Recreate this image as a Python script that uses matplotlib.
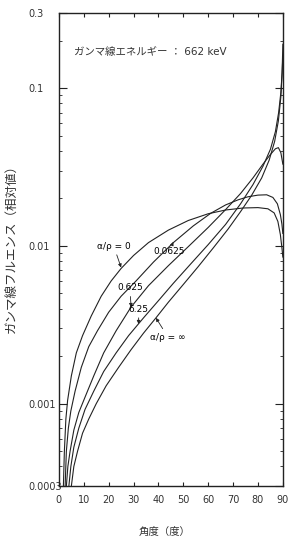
import numpy as np
import matplotlib
matplotlib.use('Agg')
import matplotlib.pyplot as plt
from matplotlib.ticker import LogLocator, NullFormatter

plt.rcParams['font.family'] = ['DejaVu Sans', 'Noto Sans CJK JP']

# angle (deg) / relative gamma fluence
deg_0 = [1.8, 2.2, 2.8, 3.5, 5, 7, 9.5, 13, 17, 21, 25, 30, 36, 44, 52, 60, 67, 74, 80,
         84, 86.5, 88, 89, 89.6, 90]
flu_0 = [0.0003, 0.0005, 0.0008, 0.00105, 0.0015, 0.0021, 0.0027, 0.0036, 0.0048, 0.006,
         0.0072, 0.0087, 0.0105, 0.0126, 0.0145, 0.016, 0.0169, 0.0174, 0.0175,
         0.0172, 0.0162, 0.0143, 0.0118, 0.0098, 0.0085]

deg_00625 = [2.5, 3, 3.8, 4.8, 6.5, 9, 12, 15.5, 20, 25, 31, 38, 46, 54, 61, 67, 72, 76, 80,
             83.5, 86, 87.8, 89, 89.6, 90]
flu_00625 = [0.0003, 0.0005, 0.0007, 0.0009, 0.0012, 0.0017, 0.0023, 0.0029, 0.0038, 0.0048,
             0.006, 0.0079, 0.0105, 0.0134, 0.0161, 0.0182, 0.0196, 0.0205, 0.021,
             0.0211, 0.0203, 0.0185, 0.0158, 0.0138, 0.012]

deg_0625 = [3, 3.6, 4.5, 6, 8, 10.5, 14, 18, 23, 29, 36, 44, 52, 60, 67, 73, 78, 82, 85, 87,
            88.2, 89.2, 90]
flu_0625 = [0.0003, 0.0004, 0.0005, 0.00068, 0.00088, 0.0011, 0.0015, 0.0021, 0.0029, 0.0041,
            0.0056, 0.0075, 0.0099, 0.0131, 0.017, 0.0215, 0.027, 0.033, 0.038, 0.0413,
            0.042, 0.039, 0.033]

deg_625 = [4, 4.8, 6, 8, 10.5, 14, 18, 23, 28, 34, 40, 46, 53, 60, 67, 73, 78, 82, 85, 87,
           88.3, 89.2, 89.7, 90]
flu_625 = [0.0003, 0.0004, 0.00053, 0.0007, 0.00092, 0.0012, 0.0016, 0.0021, 0.0027, 0.0035,
           0.0045, 0.0058, 0.0077, 0.0102, 0.0137, 0.0185, 0.0245, 0.032, 0.041, 0.053,
           0.07, 0.094, 0.125, 0.16]

deg_inf = [5, 6, 7.5, 9.5, 12, 15, 19, 24, 29, 34, 39, 44, 50, 56, 62, 68, 73, 77.5, 81.5,
           84.5, 86.7, 88.2, 89.2, 89.7, 90]
flu_inf = [0.0003, 0.0004, 0.0005, 0.00065, 0.0008, 0.001, 0.0013, 0.0017, 0.0022, 0.0028,
           0.0035, 0.0044, 0.0057, 0.0074, 0.0097, 0.0128, 0.0165, 0.021, 0.027,
           0.035, 0.046, 0.062, 0.088, 0.125, 0.19]

x_ticks = [0, 10, 20, 30, 40, 50, 60, 70, 80, 90]
y_ticks = [0.0003, 0.001, 0.01, 0.1, 0.3]
y_tick_labels = ['0.0003', '0.001', '0.01', '0.1', '0.3']

fig = plt.figure(figsize=(2.99, 5.39), dpi=100)
ax = fig.add_axes([0.197, 0.098, 0.749, 0.878])

for d, f in [(deg_0, flu_0), (deg_00625, flu_00625), (deg_0625, flu_0625),
             (deg_625, flu_625), (deg_inf, flu_inf)]:
    ax.plot(d, f, color='#222222', lw=0.8)

ax.set_yscale('log')
ax.set_xlim(0, 90)
ax.set_ylim(0.0003, 0.3)
ax.set_xticks(x_ticks)
ax.set_yticks(y_ticks)
ax.set_yticklabels(y_tick_labels)
ax.yaxis.set_minor_locator(LogLocator(base=10, subs=np.arange(2, 10)))
ax.yaxis.set_minor_formatter(NullFormatter())

ax.tick_params(axis='both', which='both', direction='in', top=True, right=True,
               labelsize=7, labelcolor='#333333', color='#222222')
ax.tick_params(axis='x', which='major', length=3, pad=6)
ax.tick_params(axis='y', which='major', length=6, pad=22)
ax.tick_params(axis='y', which='minor', length=2.5)
for lab in ax.get_yticklabels():
    lab.set_horizontalalignment('left')
for s in ax.spines.values():
    s.set_linewidth(1.0)
    s.set_color('#222222')

# curve labels with short arrows
arrow = dict(arrowstyle='-|>', lw=0.6, color='#222222', mutation_scale=5, shrinkA=1, shrinkB=0)
ax.annotate('α/ρ = 0', xy=(25, 0.0073), xytext=(0.245, 0.507), textcoords='axes fraction',
            fontsize=6.5, ha='center', va='center', arrowprops=arrow)
ax.annotate('0.0625', xy=(46, 0.0106), xytext=(0.491, 0.495), textcoords='axes fraction',
            fontsize=6.5, ha='center', va='center', arrowprops=arrow)
ax.annotate('0.625', xy=(29, 0.0041), xytext=(0.317, 0.419), textcoords='axes fraction',
            fontsize=6.5, ha='center', va='center', arrowprops=arrow)
ax.annotate('6.25', xy=(32, 0.0032), xytext=(0.357, 0.374), textcoords='axes fraction',
            fontsize=6.5, ha='center', va='center', arrowprops=arrow)
ax.annotate('α/ρ = ∞', xy=(39, 0.0035), xytext=(0.487, 0.315), textcoords='axes fraction',
            fontsize=6.5, ha='center', va='center', arrowprops=arrow)

ax.text(0.406, 0.918, 'ガンマ線エネルギー ： 662 keV', transform=ax.transAxes,
        fontsize=7.5, ha='center', va='center', color='#333333')

fig.text(0.04, 0.545, 'ガンマ線フルエンス（相対値）', rotation=90, fontsize=9,
         ha='center', va='center', color='#333333')
fig.text(0.552, 0.004, '角度（度）', fontsize=7.5, ha='center', va='bottom', color='#333333')

fig.savefig('out.png', dpi=100)
